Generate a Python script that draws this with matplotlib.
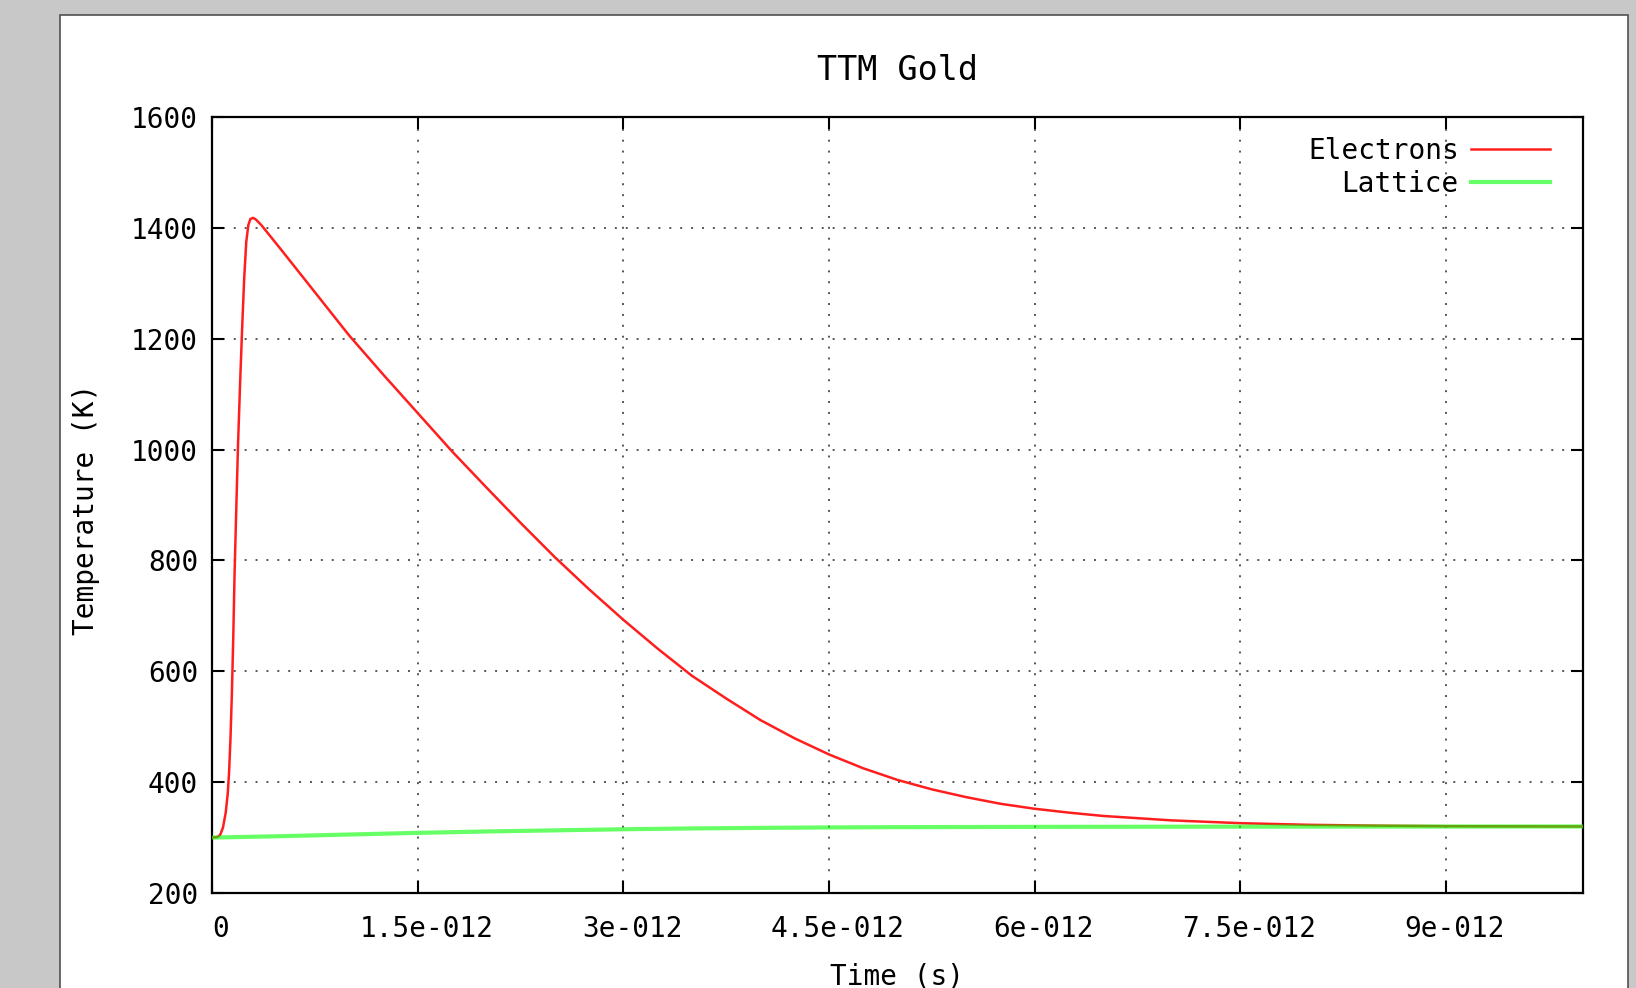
import matplotlib
matplotlib.use("Agg")
import matplotlib.pyplot as plt
import matplotlib.transforms as mtransforms
from matplotlib.patches import Rectangle

# time axis in picoseconds
t_electrons_ps = [0.00, 0.04, 0.06, 0.08, 0.10, 0.115, 0.125, 0.135, 0.145, 0.155,
                  0.165, 0.18, 0.19, 0.205, 0.22, 0.235, 0.25, 0.265, 0.28, 0.30,
                  0.32, 0.36, 0.50, 0.75, 1.00, 1.25, 1.50, 1.75, 2.00, 2.25,
                  2.50, 2.75, 3.00, 3.25, 3.50, 3.75, 4.00, 4.25, 4.50, 4.75,
                  5.00, 5.25, 5.50, 5.75, 6.00, 6.25, 6.50, 7.00, 7.50, 8.00,
                  8.50, 9.00, 10.00]
T_electrons = [300, 301, 305, 318, 345, 380, 420, 480, 560, 660,
               780, 920, 1010, 1120, 1220, 1310, 1375, 1405, 1416, 1418,
               1415, 1405, 1362, 1284, 1206, 1135, 1066, 997, 932, 868,
               806, 748, 693, 641, 592, 551, 512, 479, 450, 425,
               404, 387, 373, 361, 352, 345, 339, 331, 326, 323,
               321.5, 320.5, 320]

t_lattice_ps = [0.0, 0.5, 1.0, 1.5, 2.0, 2.5, 3.0, 3.5, 4.0, 4.5, 5.0, 6.0, 7.0, 8.0, 10.0]
T_lattice = [300, 302.5, 305.5, 308.5, 311, 313, 315, 316.5, 317.5, 318.3, 318.8,
             319.3, 319.6, 319.8, 320]

x_ticks = [0, 1.5e-12, 3e-12, 4.5e-12, 6e-12, 7.5e-12, 9e-12]
x_tick_labels = ["0", "1.5e-012", "3e-012", "4.5e-012", "6e-012", "7.5e-012", "9e-012"]
y_ticks = [200, 400, 600, 800, 1000, 1200, 1400, 1600]

W, H = 1636, 988
plt.rcParams["font.family"] = ["DejaVu Sans Mono"]
plt.rcParams["font.size"] = 20

fig = plt.figure(figsize=(W / 100, H / 100), dpi=100, facecolor="#c8c8c8")

# white window panel on the grey screenshot background
fig.patches.append(Rectangle((60 / W, -0.05), (1628 - 60) / W, 1.05 - 15 / H,
                             transform=fig.transFigure, facecolor="white",
                             edgecolor="#505050", linewidth=1.2, zorder=-1))

ax = fig.add_axes([212 / W, (H - 893) / H, (1583 - 212) / W, (893 - 117) / H])

t_e = [v * 1e-12 for v in t_electrons_ps]
t_l = [v * 1e-12 for v in t_lattice_ps]
ax.plot(t_e, T_electrons, color="#ff1e1e", lw=1.8, label="Electrons", zorder=3)
ax.plot(t_l, T_lattice, color="#00ff00", lw=3.0, alpha=0.6, label="Lattice", zorder=4)

ax.set_xlim(0, 1e-11)
ax.set_ylim(200, 1600)
ax.set_xticks(x_ticks)
ax.set_xticklabels(x_tick_labels)
ax.set_yticks(y_ticks)

ax.grid(True, color="#555555", linestyle=(0, (1, 4.6)), linewidth=1.4)
ax.tick_params(direction="in", length=8.6, width=1.5, top=True, right=True,
               labeltop=False, labelright=False, pad=10)
ax.tick_params(axis="x", pad=16)
for sp in ax.spines.values():
    sp.set_linewidth(1.6)

# gnuplot puts the x labels slightly right of the tick
shift = mtransforms.ScaledTranslation(9 / 100, 0, fig.dpi_scale_trans)
for lab in ax.get_xticklabels():
    lab.set_transform(lab.get_transform() + shift)

ax.set_title("TTM Gold", pad=27)
ax.set_xlabel("Time (s)")
ax.xaxis.set_label_coords(0.5, -0.089)
ax.set_ylabel("Temperature (K)")
ax.yaxis.set_label_coords(-0.082, 0.495)

ax.legend(loc="upper right", bbox_to_anchor=(1 - 16 / 1371, 1 - 3 / 776),
          markerfirst=False, frameon=False,
          handlelength=2.85, handletextpad=0.45, labelspacing=0.2,
          borderaxespad=0.4, borderpad=0.2)

fig.savefig("out.png", dpi=100, facecolor=fig.get_facecolor())
